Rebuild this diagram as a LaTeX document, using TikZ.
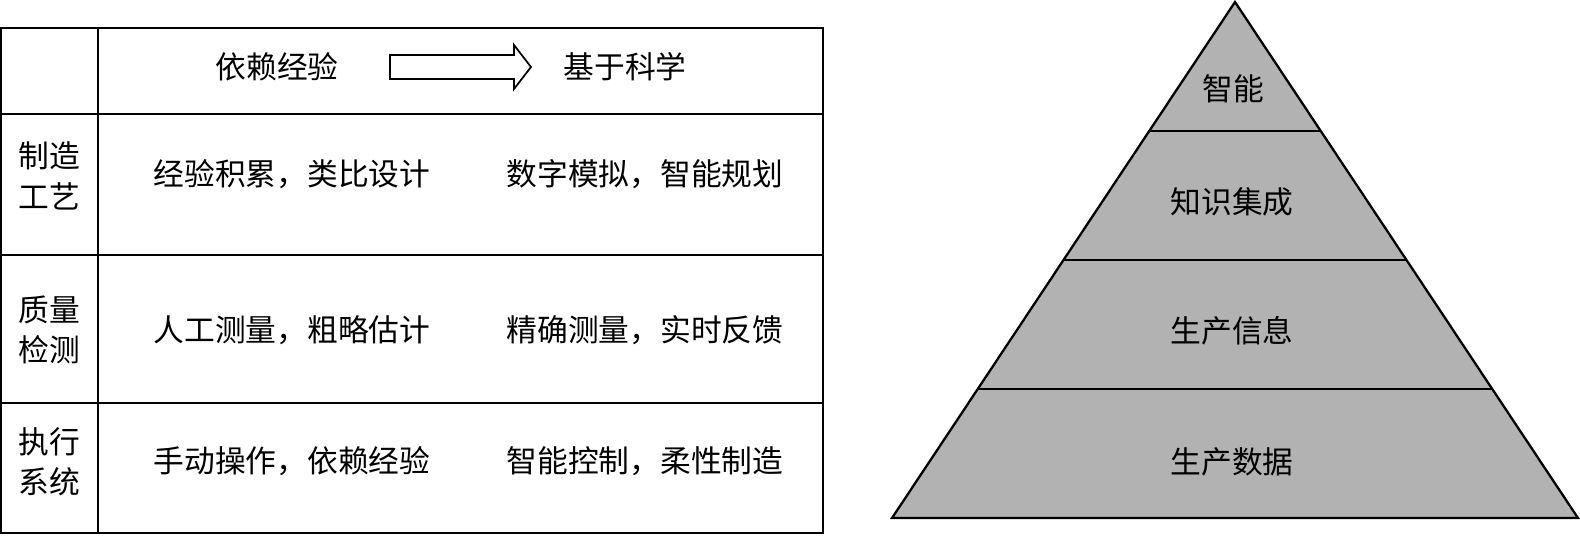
\documentclass[tikz,border=0pt]{standalone}
\usepackage{fontspec}
\setmainfont{Noto Sans CJK SC}
\usepackage{tikz}
\usetikzlibrary{calc}

\tikzset{
	cell/.style={font=\fontsize{17.5}{23}\selectfont, align=center},
	rule/.style={line width=1.3pt},
}

\begin{document}
\begin{tikzpicture}[x=0.02cm,y=-0.02cm]
	\useasboundingbox (0,0) rectangle (1580,535);
	
	% table
	\coordinate (TL) at (1,28);
	\coordinate (BR) at (823,533);
	\draw[rule] (TL) rectangle (BR);
	\draw[rule] (98,28)--(98,533);
	\draw[rule] (1,114)--(823,114);
	\draw[rule] (1,255)--(823,255);
	\draw[rule] (1,403)--(823,403);
	
	\node[cell] (h1) at (277,67) {依赖经验};
	\node[cell] (h2) at (625,67) {基于科学};
	
	% hollow arrow
	\draw[line width=1pt] (390,55)--(514,55)--(514,45)--(531,67)--(514,89)--(514,79)--(390,79)--cycle;
	
	\node[cell] (r1) at (49,176) {制造\\工艺};
	\node[cell] (r2) at (49,330) {质量\\检测};
	\node[cell] (r3) at (49,462) {执行\\系统};
	
	\node[cell] (a1) at (292,174) {经验积累，类比设计};
	\node[cell] (b1) at (645,174) {数字模拟，智能规划};
	\node[cell] (a2) at (292,330) {人工测量，粗略估计};
	\node[cell] (b2) at (645,330) {精确测量，实时反馈};
	\node[cell] (a3) at (292,461) {手动操作，依赖经验};
	\node[cell] (b3) at (645,461) {智能控制，柔性制造};
	
	% pyramid
	\coordinate (P) at (1235,2);
	\coordinate (L) at (892,518);
	\coordinate (R) at (1578,518);
	
	\fill[black!30] (P)--(L)--(R)--cycle;
	\foreach \t in {0.25,0.5,0.75}
		\draw[rule] ($(P)!\t!(L)$)--($(P)!\t!(R)$);
	\draw[rule,line join=miter] (P)--(L)--(R)--cycle;
	
	\node[cell] (p1) at (1233,89) {智能};
	\node[cell] (p2) at (1232,202) {知识集成};
	\node[cell] (p3) at (1232,331) {生产信息};
	\node[cell] (p4) at (1232,462) {生产数据};
\end{tikzpicture}
\end{document}
